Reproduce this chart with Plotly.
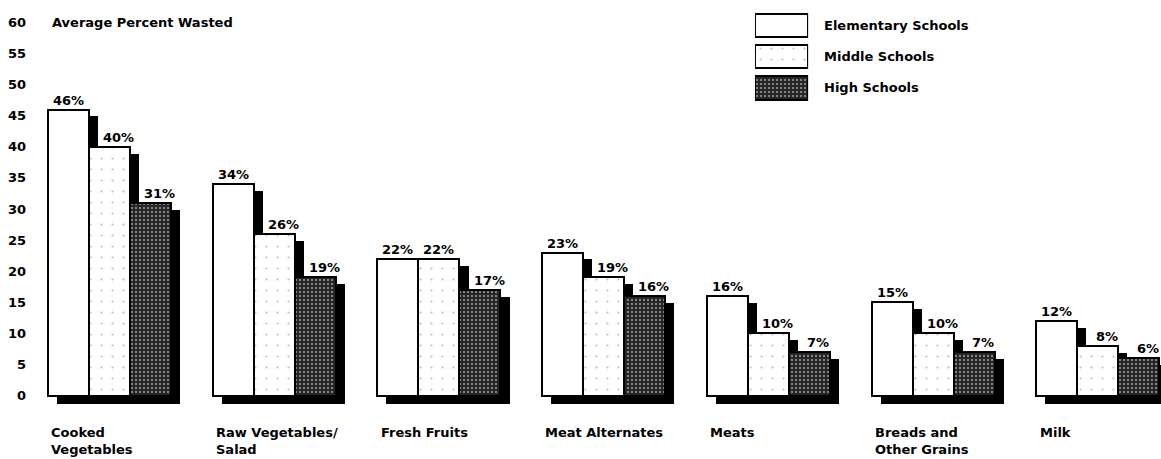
import plotly.graph_objects as go

# Food groups and average percent wasted by school level
categories = ["Cooked<br>Vegetables", "Raw Vegetables/<br>Salad", "Fresh Fruits",
              "Meat Alternates", "Meats", "Breads and<br>Other Grains", "Milk"]
series_names = ["Elementary Schools", "Middle Schools", "High Schools"]
elementary = [46, 34, 22, 23, 16, 15, 12]
middle = [40, 26, 22, 19, 10, 10, 8]
high = [31, 19, 17, 16, 7, 7, 6]
y_ticks = [0, 5, 10, 15, 20, 25, 30, 35, 40, 45, 50, 55, 60]

FONT = "DejaVu Sans"
FS = 13
BAR_W = 0.249            # width of one bar in group units
SHADOW_DX = 0.055        # drop shadow shift to the right (x units)
SHADOW_DY = 1.1          # drop shadow starts this much below the bar top
SHADOW_BASE = -1.3       # drop shadow extends below the baseline

styles = [
    dict(color="white", pattern=dict(shape="", bgcolor="white")),
    dict(color="white", pattern=dict(shape=".", bgcolor="white", fgcolor="#bdbdbd",
                                     size=11, solidity=0.03, fillmode="replace")),
    dict(color="#262626", pattern=dict(shape=".", bgcolor="#262626", fgcolor="#9a9a9a",
                                       size=4, solidity=0.22, fillmode="replace")),
]

series = [elementary, middle, high]
offsets = [-BAR_W, 0.0, BAR_W]
xs = list(range(len(categories)))

fig = go.Figure()

# drop shadows first, so every bar sits on top of them
for vals, off in zip(series, offsets):
    fig.add_trace(go.Bar(
        x=[i + off + SHADOW_DX for i in xs],
        y=[v - SHADOW_DY - SHADOW_BASE for v in vals],
        base=SHADOW_BASE, width=BAR_W,
        marker=dict(color="black", line=dict(width=0)),
        hoverinfo="skip", showlegend=False,
    ))

for s, (name, vals, off, st) in enumerate(zip(series_names, series, offsets, styles)):
    fig.add_trace(go.Bar(
        x=[i + off for i in xs], y=vals, width=BAR_W, name=name,
        marker=dict(color=st["color"], pattern=st["pattern"],
                    line=dict(color="black", width=2)),
        showlegend=False,
    ))
    # value labels above each bar; nudged right when the neighbour's shadow shows
    for i, v in zip(xs, vals):
        dx = SHADOW_DX if s > 0 and series[s - 1][i] > v else 0.0
        fig.add_annotation(x=i + off + dx, xref="x", y=v, yref="y", text=f"<b>{v}%</b>",
                           showarrow=False, xanchor="center", yanchor="bottom",
                           font=dict(family=FONT, size=FS, color="black"))

# legend swatches drawn on a small inset axis
for k, (name, st) in enumerate(zip(series_names, styles)):
    fig.add_trace(go.Bar(
        x=[1], y=[k], base=0, orientation="h", width=0.75,
        marker=dict(color=st["color"], pattern=st["pattern"],
                    line=dict(color="black", width=2)),
        xaxis="x2", yaxis="y2", hoverinfo="skip", showlegend=False,
    ))
    fig.add_annotation(x=0.7003, xref="paper", y=k, yref="y2", text=f"<b>{name}</b>",
                       showarrow=False, xanchor="left", yanchor="middle",
                       font=dict(family=FONT, size=FS, color="black"))

# category labels under each group, left aligned to the first bar
for i, cat in enumerate(categories):
    fig.add_annotation(x=i - 1.5 * BAR_W + 0.008, xref="x", y=-0.038, yref="paper",
                       text=f"<b>{cat}</b>", showarrow=False, xanchor="left",
                       yanchor="top", align="left",
                       font=dict(family=FONT, size=FS, color="black"))

fig.add_annotation(x=-1.5 * BAR_W + 0.01, xref="x", y=60, yref="y",
                   text="<b>Average Percent Wasted</b>", showarrow=False,
                   xanchor="left", yanchor="middle",
                   font=dict(family=FONT, size=FS, color="black"))

fig.update_layout(
    width=1161, height=459, barmode="overlay", bargap=0,
    margin=dict(l=30, r=0, t=10, b=51),
    paper_bgcolor="white", plot_bgcolor="white",
    xaxis=dict(range=[-0.483, 6.384], visible=False),
    yaxis=dict(range=[-2, 62], tickvals=y_ticks,
               ticktext=[f"<b>{t}</b>" for t in y_ticks],
               tickfont=dict(family=FONT, size=FS, color="black"),
               ticklabelstandoff=3,
               showgrid=False, zeroline=False, showline=False, ticks=""),
    xaxis2=dict(domain=[0.641, 0.688], range=[0, 1], visible=False, anchor="y2"),
    yaxis2=dict(domain=[0.765, 1.0], range=[2.5, -0.5], visible=False, anchor="x2"),
)

fig.write_html("out.html")
